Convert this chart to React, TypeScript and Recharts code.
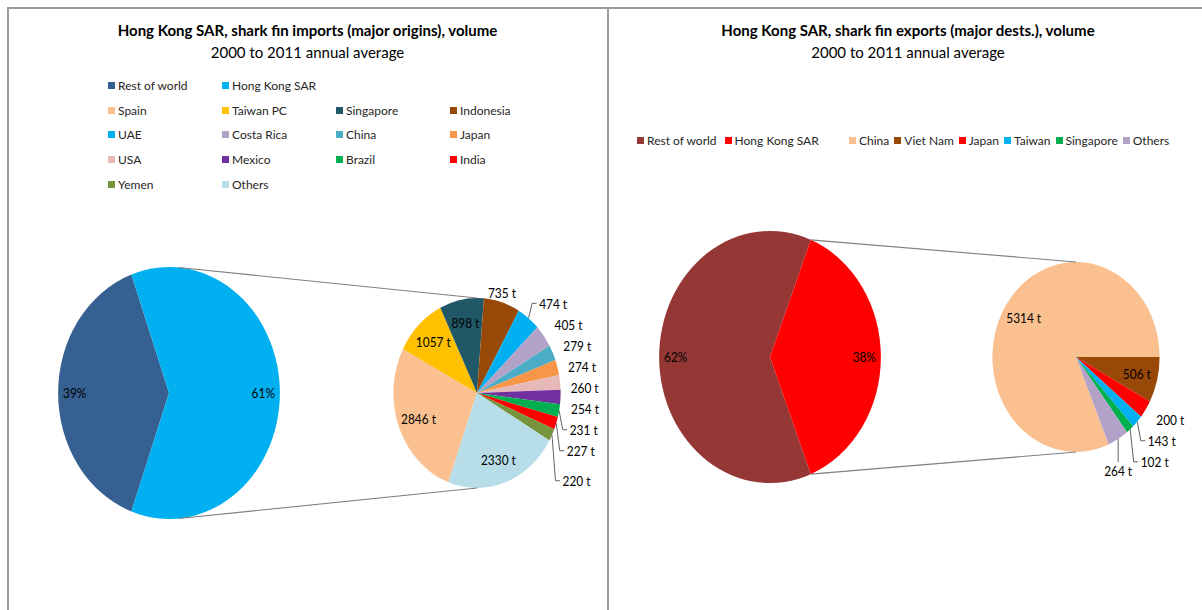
import React from "react";
import { PieChart, Pie, Cell } from "recharts";

// the reference pies are squashed horizontally, so the whole pie layer is drawn wide and scaled
const SX = 0.88;
const FONT = "Lato, 'Noto Sans', sans-serif";

// imports panel
const importMainNames = ["Rest of world", "Hong Kong SAR"];
const importMainColors = ["#366092", "#00B0F0"];
const importRestOfWorld = 6700;

const importOriginNames = [
  "Spain", "Taiwan PC", "Singapore", "Indonesia", "UAE", "Costa Rica", "China",
  "Japan", "USA", "Mexico", "Brazil", "India", "Yemen", "Others",
];
const importOriginValues = [2846, 1057, 898, 735, 474, 405, 279, 274, 260, 254, 231, 227, 220, 2330];
const importOriginColors = [
  "#FAC090", "#FFC000", "#215868", "#984807", "#00B0F0", "#B3A2C7", "#4BACC6",
  "#F79646", "#E6B9B8", "#7030A0", "#00B050", "#FF0000", "#77933C", "#B7DEE8",
];

// exports panel
const exportMainNames = ["Rest of world", "Hong Kong SAR"];
const exportMainColors = ["#953735", "#FF0000"];
const exportRestOfWorld = 10650;

const exportDestNames = ["China", "Viet Nam", "Japan", "Taiwan", "Singapore", "Others"];
const exportDestValues = [5314, 506, 200, 143, 102, 264];
const exportDestColors = ["#FAC090", "#984807", "#FF0000", "#00B0F0", "#00B050", "#B3A2C7"];

const sum = (a: number[]) => a.reduce((s, v) => s + v, 0);
const RAD = Math.PI / 180;

// layout (unscaled frame)
const BIG_R = 126;
const SMALL_R = 95;
const IMP_BIG = { cx: 169 / SX, cy: 393 };
const IMP_SMALL = { cx: 477 / SX, cy: 393 };
const EXP_BIG = { cx: 770 / SX, cy: 357 };
const EXP_SMALL = { cx: 1076 / SX, cy: 357 };
const IMP_SMALL_START = 250;
const LABEL_SIZE = 13.5;

type LabelPos = { x: number; y: number; anchor: "start" | "middle"; line?: string };

function layoutSmallLabels(values: number[], startAngle: number, cx: number, cy: number, r: number): LabelPos[] {
  const total = sum(values);
  const out: LabelPos[] = [];
  const stacked: { i: number; y: number; x: number; ex: number; ey: number }[] = [];
  let a = startAngle;
  values.forEach((v, i) => {
    const span = (v / total) * 360;
    const mid = a - span / 2;
    a -= span;
    const c = Math.cos(mid * RAD);
    const s = Math.sin(mid * RAD);
    const ex = cx + r * c;
    const ey = cy - r * s;
    if (v / total >= 0.075) {
      out[i] = { x: cx + 0.75 * r * c, y: cy - 0.75 * r * s, anchor: "middle" };
    } else if (c < 0.55) {
      if (s > 0) out[i] = { x: ex, y: ey - 10, anchor: "middle" };
      else out[i] = { x: ex, y: ey + 32, anchor: "middle", line: `M${ex},${ey} L${ex},${ey + 23}` };
    } else {
      stacked.push({ i, y: cy - 1.2 * r * s, x: ex + 12, ex, ey });
    }
  });
  let prev = -Infinity;
  stacked.forEach((l, k) => {
    const y = Math.max(l.y, prev + (k === stacked.length - 1 && stacked.length > 6 ? 30 : 21));
    prev = y;
    const p: LabelPos = { x: l.x, y, anchor: "start" };
    if (Math.abs(y - l.ey) > 14) p.line = `M${l.ex},${l.ey} L${l.x - 8},${y} L${l.x - 3},${y}`;
    out[l.i] = p;
  });
  return out;
}

const importTotal = sum(importOriginValues);
const exportTotal = sum(exportDestValues);

const importMainData = [
  { name: importMainNames[0], value: importRestOfWorld },
  { name: importMainNames[1], value: importTotal },
];
const exportMainData = [
  { name: exportMainNames[0], value: exportRestOfWorld },
  { name: exportMainNames[1], value: exportTotal },
];
const importOriginData = importOriginNames.map((name, i) => ({ name, value: importOriginValues[i] }));
const exportDestData = exportDestNames.map((name, i) => ({ name, value: exportDestValues[i] }));

// big pie: Hong Kong slice centred on 3 o'clock
const bigStart = (row: number, hk: number) => 180 - ((row / (row + hk)) * 360) / 2;
const impBigStart = bigStart(importRestOfWorld, importTotal);
const expBigStart = bigStart(exportRestOfWorld, exportTotal);
const expSmallStart = (exportDestValues[0] / exportTotal) * 360;

const impLabels = layoutSmallLabels(importOriginValues, IMP_SMALL_START, IMP_SMALL.cx, IMP_SMALL.cy, SMALL_R);
const expLabels = layoutSmallLabels(exportDestValues, expSmallStart, EXP_SMALL.cx, EXP_SMALL.cy, SMALL_R);

const renderSmallLabel = (layout: LabelPos[]) => (props: any) => {
  const p = layout[props.index];
  if (!p) return null;
  return (
    <g>
      {p.line && <path d={p.line} stroke="#595959" strokeWidth={1} fill="none" />}
      <text x={p.x} y={p.y} textAnchor={p.anchor} dominantBaseline="central" fontSize={LABEL_SIZE} fill="#000" fontFamily={FONT}>
        {props.value} t
      </text>
    </g>
  );
};

const renderPercentLabel = (props: any) => {
  const { cx, cy, midAngle, outerRadius, percent } = props;
  const x = cx + 0.85 * outerRadius * Math.cos(midAngle * RAD);
  const y = cy - 0.85 * outerRadius * Math.sin(midAngle * RAD);
  return (
    <text x={x} y={y} textAnchor="middle" dominantBaseline="central" fontSize={LABEL_SIZE} fill="#000" fontFamily={FONT}>
      {Math.round(percent * 100)}%
    </text>
  );
};

function connectors(big: { cx: number; cy: number }, small: { cx: number; cy: number }, hkShare: number) {
  const a = Math.min(hkShare * 180, 85) * RAD;
  const bx = big.cx + BIG_R * Math.cos(a);
  const dy = BIG_R * Math.sin(a);
  return (
    <g stroke="#7f7f7f" strokeWidth={1.1}>
      <line x1={bx} y1={big.cy - dy} x2={small.cx} y2={small.cy - SMALL_R} />
      <line x1={bx} y1={big.cy + dy} x2={small.cx} y2={small.cy + SMALL_R} />
    </g>
  );
}

function LegendItem({ name, color }: { name: string; color: string }) {
  return (
    <span style={{ display: "inline-flex", alignItems: "center", whiteSpace: "nowrap" }}>
      <span style={{ width: 7, height: 7, background: color, marginRight: 3, display: "inline-block" }} />
      {name}
    </span>
  );
}

const legendText: React.CSSProperties = { fontFamily: FONT, fontSize: 12, color: "#262626" };

export default function App() {
  const W = Math.ceil(1202 / SX);
  const line = "#9a9a9a";
  return (
    <div style={{ position: "relative", width: 1202, height: 610, background: "#fff", overflow: "hidden" }}>
      <style>{`body{margin:0}`}</style>
      {/* panel frames */}
      <div style={{ position: "absolute", left: 7, top: 7, width: 1195, borderTop: `2px solid ${line}` }} />
      <div style={{ position: "absolute", left: 7, top: 7, height: 603, borderLeft: `2px solid ${line}` }} />
      <div style={{ position: "absolute", left: 607, top: 7, height: 603, borderLeft: `2px solid ${line}` }} />

      {/* titles */}
      <div style={{ position: "absolute", left: 7, width: 601, top: 19, textAlign: "center", fontFamily: FONT }}>
        <div style={{ fontWeight: 700, fontSize: 15, lineHeight: "22px" }}>
          Hong Kong SAR, shark fin imports (major origins), volume
        </div>
        <div style={{ fontSize: 15, lineHeight: "22px" }}>2000 to 2011 annual average</div>
      </div>
      <div style={{ position: "absolute", left: 608, width: 600, top: 19, textAlign: "center", fontFamily: FONT }}>
        <div style={{ fontWeight: 700, fontSize: 15, lineHeight: "22px" }}>
          Hong Kong SAR, shark fin exports (major dests.), volume
        </div>
        <div style={{ fontSize: 15, lineHeight: "22px" }}>2000 to 2011 annual average</div>
      </div>

      {/* imports legend */}
      <div
        style={{
          ...legendText,
          position: "absolute",
          left: 108,
          top: 73,
          display: "grid",
          gridTemplateColumns: "114px 114px 114px 114px",
          gridAutoRows: "24.75px",
          alignItems: "center",
        }}
      >
        <LegendItem name={importMainNames[0]} color={importMainColors[0]} />
        <LegendItem name={importMainNames[1]} color={importMainColors[1]} />
        <span />
        <span />
        {importOriginNames.map((n, i) => (
          <LegendItem key={n} name={n} color={importOriginColors[i]} />
        ))}
      </div>

      {/* exports legend */}
      <div style={{ ...legendText, position: "absolute", left: 637, top: 133, display: "flex", gap: 8 }}>
        {exportMainNames.map((n, i) => (
          <LegendItem key={n} name={n} color={exportMainColors[i]} />
        ))}
      </div>
      <div style={{ ...legendText, position: "absolute", left: 849, top: 133, display: "flex", gap: 5 }}>
        {exportDestNames.map((n, i) => (
          <LegendItem key={n} name={n} color={exportDestColors[i]} />
        ))}
      </div>

      {/* pies, drawn wide then squashed */}
      <div style={{ position: "absolute", left: 0, top: 0, width: W, height: 610, transform: `scaleX(${SX})`, transformOrigin: "0 0" }}>
        <PieChart width={W} height={610} margin={{ top: 0, right: 0, bottom: 0, left: 0 }}>
          <Pie
            data={importMainData}
            dataKey="value"
            cx={IMP_BIG.cx}
            cy={IMP_BIG.cy}
            outerRadius={BIG_R}
            startAngle={impBigStart}
            endAngle={impBigStart + 360}
            stroke="none"
            label={renderPercentLabel}
            labelLine={false}
            isAnimationActive={false}
          >
            {importMainData.map((d, i) => (
              <Cell key={d.name} fill={importMainColors[i]} />
            ))}
          </Pie>
          <Pie
            data={importOriginData}
            dataKey="value"
            cx={IMP_SMALL.cx}
            cy={IMP_SMALL.cy}
            outerRadius={SMALL_R}
            startAngle={IMP_SMALL_START}
            endAngle={IMP_SMALL_START - 360}
            stroke="none"
            label={renderSmallLabel(impLabels)}
            labelLine={false}
            isAnimationActive={false}
          >
            {importOriginData.map((d, i) => (
              <Cell key={d.name} fill={importOriginColors[i]} />
            ))}
          </Pie>
          <Pie
            data={exportMainData}
            dataKey="value"
            cx={EXP_BIG.cx}
            cy={EXP_BIG.cy}
            outerRadius={BIG_R}
            startAngle={expBigStart}
            endAngle={expBigStart + 360}
            stroke="none"
            label={renderPercentLabel}
            labelLine={false}
            isAnimationActive={false}
          >
            {exportMainData.map((d, i) => (
              <Cell key={d.name} fill={exportMainColors[i]} />
            ))}
          </Pie>
          <Pie
            data={exportDestData}
            dataKey="value"
            cx={EXP_SMALL.cx}
            cy={EXP_SMALL.cy}
            outerRadius={SMALL_R}
            startAngle={expSmallStart}
            endAngle={expSmallStart - 360}
            stroke="none"
            label={renderSmallLabel(expLabels)}
            labelLine={false}
            isAnimationActive={false}
          >
            {exportDestData.map((d, i) => (
              <Cell key={d.name} fill={exportDestColors[i]} />
            ))}
          </Pie>
        </PieChart>
        <svg width={W} height={610} style={{ position: "absolute", left: 0, top: 0, pointerEvents: "none" }}>
          {connectors(IMP_BIG, IMP_SMALL, importTotal / (importTotal + importRestOfWorld))}
          {connectors(EXP_BIG, EXP_SMALL, exportTotal / (exportTotal + exportRestOfWorld))}
        </svg>
      </div>
    </div>
  );
}
